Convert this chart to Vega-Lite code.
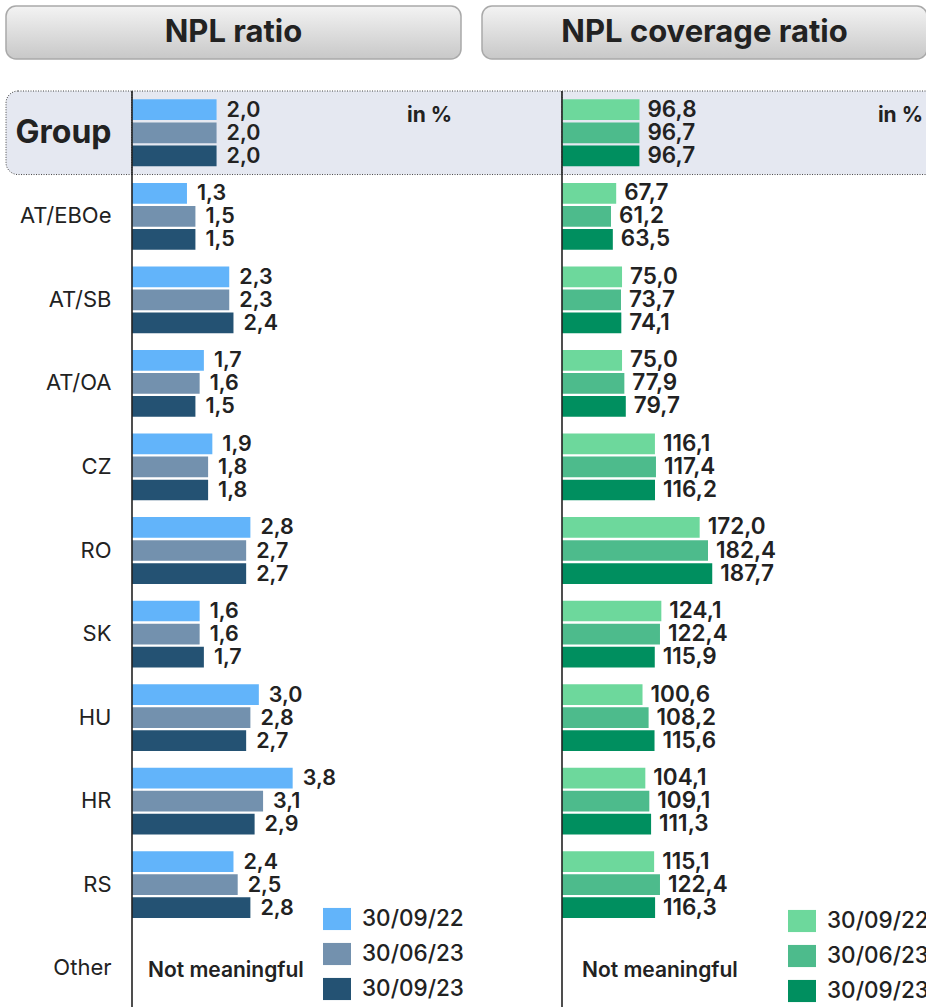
{
  "$schema": "https://vega.github.io/schema/vega-lite/v6.json",
  "padding": {"left": 5, "top": 5, "right": 0, "bottom": 0},
  "spacing": 30,
  "config": {
    "view": {"stroke": null},
    "locale": {"number": {"decimal": ",", "thousands": ".", "grouping": [3], "currency": ["", " €"]}}
  },
  "datasets": {
    "npl": [
      {"cat": "Group", "period": "30/09/22", "ratio": 2.0, "coverage": 96.8},
      {"cat": "Group", "period": "30/06/23", "ratio": 2.0, "coverage": 96.7},
      {"cat": "Group", "period": "30/09/23", "ratio": 2.0, "coverage": 96.7},
      {"cat": "AT/EBOe", "period": "30/09/22", "ratio": 1.3, "coverage": 67.7},
      {"cat": "AT/EBOe", "period": "30/06/23", "ratio": 1.5, "coverage": 61.2},
      {"cat": "AT/EBOe", "period": "30/09/23", "ratio": 1.5, "coverage": 63.5},
      {"cat": "AT/SB", "period": "30/09/22", "ratio": 2.3, "coverage": 75.0},
      {"cat": "AT/SB", "period": "30/06/23", "ratio": 2.3, "coverage": 73.7},
      {"cat": "AT/SB", "period": "30/09/23", "ratio": 2.4, "coverage": 74.1},
      {"cat": "AT/OA", "period": "30/09/22", "ratio": 1.7, "coverage": 75.0},
      {"cat": "AT/OA", "period": "30/06/23", "ratio": 1.6, "coverage": 77.9},
      {"cat": "AT/OA", "period": "30/09/23", "ratio": 1.5, "coverage": 79.7},
      {"cat": "CZ", "period": "30/09/22", "ratio": 1.9, "coverage": 116.1},
      {"cat": "CZ", "period": "30/06/23", "ratio": 1.8, "coverage": 117.4},
      {"cat": "CZ", "period": "30/09/23", "ratio": 1.8, "coverage": 116.2},
      {"cat": "RO", "period": "30/09/22", "ratio": 2.8, "coverage": 172.0},
      {"cat": "RO", "period": "30/06/23", "ratio": 2.7, "coverage": 182.4},
      {"cat": "RO", "period": "30/09/23", "ratio": 2.7, "coverage": 187.7},
      {"cat": "SK", "period": "30/09/22", "ratio": 1.6, "coverage": 124.1},
      {"cat": "SK", "period": "30/06/23", "ratio": 1.6, "coverage": 122.4},
      {"cat": "SK", "period": "30/09/23", "ratio": 1.7, "coverage": 115.9},
      {"cat": "HU", "period": "30/09/22", "ratio": 3.0, "coverage": 100.6},
      {"cat": "HU", "period": "30/06/23", "ratio": 2.8, "coverage": 108.2},
      {"cat": "HU", "period": "30/09/23", "ratio": 2.7, "coverage": 115.6},
      {"cat": "HR", "period": "30/09/22", "ratio": 3.8, "coverage": 104.1},
      {"cat": "HR", "period": "30/06/23", "ratio": 3.1, "coverage": 109.1},
      {"cat": "HR", "period": "30/09/23", "ratio": 2.9, "coverage": 111.3},
      {"cat": "RS", "period": "30/09/22", "ratio": 2.4, "coverage": 115.1},
      {"cat": "RS", "period": "30/06/23", "ratio": 2.5, "coverage": 122.4},
      {"cat": "RS", "period": "30/09/23", "ratio": 2.8, "coverage": 116.3}
    ]
  },
  "vconcat": [
    {
      "hconcat": [
        {
          "width": 455, "height": 53,
          "data": {"values": [{"t": "NPL ratio"}]},
          "layer": [
            {"mark": {"type": "rect", "cornerRadius": 10, "stroke": "#a9a9a9", "strokeWidth": 1.5,
              "fill": {"gradient": "linear", "x1": 0, "y1": 0, "x2": 0, "y2": 1, "stops": [{"offset": 0, "color": "#f3f3f3"}, {"offset": 1, "color": "#c8c8c8"}]}},
             "encoding": {}},
            {"mark": {"type": "text", "font": "Inter", "fontSize": 31, "fontWeight": 700, "color": "#222", "baseline": "middle"},
             "encoding": {"text": {"field": "t"}}}
          ]
        },
        {
          "width": 445, "height": 53,
          "data": {"values": [{"t": "NPL coverage ratio"}]},
          "layer": [
            {"mark": {"type": "rect", "cornerRadius": 10, "stroke": "#a9a9a9", "strokeWidth": 1.5,
              "fill": {"gradient": "linear", "x1": 0, "y1": 0, "x2": 0, "y2": 1, "stops": [{"offset": 0, "color": "#f3f3f3"}, {"offset": 1, "color": "#c8c8c8"}]}},
             "encoding": {}},
            {"mark": {"type": "text", "font": "Inter", "fontSize": 31, "fontWeight": 700, "color": "#222", "baseline": "middle"},
             "encoding": {"text": {"field": "t"}}}
          ]
        }
      ],
      "spacing": 21,
      "bounds": "flush"
    },
    {
      "hconcat": [
        {
          "width": 126, "height": 919,
          "data": {"values": [{"cat": "Group"}]},
          "mark": {"type": "rect", "fill": "#E5E8F1", "stroke": "#444", "strokeWidth": 1, "strokeDash": [1, 1.5], "cornerRadiusTopLeft": 12, "cornerRadiusBottomLeft": 12},
          "encoding": {
            "y": {"field": "cat", "type": "nominal",
              "scale": {"domain": ["Group", "AT/EBOe", "AT/SB", "AT/OA", "CZ", "RO", "SK", "HU", "HR", "RS", "Other"], "paddingInner": 0, "paddingOuter": 0},
              "axis": {"orient": "left", "domain": false, "ticks": false, "tickSize": 0, "labelPadding": -105, "labelAlign": "right", "labelBaseline": "middle",
                "labelFont": "Inter", "labelColor": "#222", "labelLimit": 300, "title": null,
                "labelFontSize": {"condition": {"test": "datum.value === 'Group'", "value": 32}, "value": 22},
                "labelFontWeight": {"condition": {"test": "datum.value === 'Group'", "value": 700}, "value": 400}}}
          }
        },
        {
          "width": 430, "height": 919,
          "layer": [
            {
              "data": {"values": [{"cat": "Group"}]},
              "mark": {"type": "rect", "fill": "#E5E8F1", "stroke": "#444", "strokeWidth": 1, "strokeDash": [1, 1.5]},
              "encoding": {"y": {"field": "cat", "type": "nominal", "axis": null,
                "scale": {"domain": ["Group", "AT/EBOe", "AT/SB", "AT/OA", "CZ", "RO", "SK", "HU", "HR", "RS", "Other"], "paddingInner": 0, "paddingOuter": 0}}}
            },
            {
              "layer": [
                {
                  "data": {"name": "npl"},
                  "mark": {"type": "bar"},
                  "encoding": {
                    "y": {"field": "cat", "type": "nominal", "axis": null,
                      "scale": {"domain": ["Group", "AT/EBOe", "AT/SB", "AT/OA", "CZ", "RO", "SK", "HU", "HR", "RS", "Other"], "paddingInner": 0.2, "paddingOuter": 0.1}},
                    "yOffset": {"field": "period", "type": "nominal", "scale": {"domain": ["30/09/22", "30/06/23", "30/09/23"], "paddingInner": 0.1, "paddingOuter": 0}},
                    "x": {"field": "ratio", "type": "quantitative", "stack": null, "axis": null, "scale": {"domain": [0, 10.17], "nice": false}},
                    "color": {"field": "period", "type": "nominal",
                      "scale": {"domain": ["30/09/22", "30/06/23", "30/09/23"], "range": ["#62B4FA", "#7391AE", "#245273"]},
                      "legend": {"orient": "none", "legendX": 191, "legendY": 814, "title": null, "padding": 0,
                        "symbolType": "M-1,-0.79H1V0.79H-1Z", "symbolSize": 784, "symbolStrokeWidth": 0, "symbolOpacity": 1,
                        "labelFont": "Inter", "labelFontSize": 22.5, "labelFontWeight": 500, "labelColor": "#222", "labelOffset": 11, "rowPadding": 9}}
                  }
                },
                {
                  "data": {"name": "npl"},
                  "mark": {"type": "text", "align": "left", "baseline": "middle", "dx": 10, "dy": 1, "font": "Inter", "fontSize": 21.5, "fontWeight": 600, "color": "#222"},
                  "encoding": {
                    "y": {"field": "cat", "type": "nominal", "axis": null},
                    "yOffset": {"field": "period", "type": "nominal"},
                    "x": {"field": "ratio", "type": "quantitative", "stack": null},
                    "text": {"field": "ratio", "type": "quantitative", "format": ".1f"}
                  }
                },
                {
                  "data": {"values": [{"cat": "Group", "t": "in %"}]},
                  "mark": {"type": "text", "align": "right", "baseline": "middle", "dy": -17, "font": "Inter", "fontSize": 21, "fontWeight": 700, "color": "#222"},
                  "encoding": {
                    "y": {"field": "cat", "type": "nominal", "axis": null},
                    "x": {"datum": 7.57, "type": "quantitative"},
                    "text": {"field": "t"}
                  }
                },
                {
                  "data": {"values": [{"cat": "Other", "t": "Not meaningful"}]},
                  "mark": {"type": "text", "align": "left", "baseline": "middle", "dx": 16, "dy": 3, "font": "Inter", "fontSize": 21, "fontWeight": 600, "color": "#222"},
                  "encoding": {
                    "y": {"field": "cat", "type": "nominal", "axis": null},
                    "x": {"datum": 0, "type": "quantitative"},
                    "text": {"field": "t"}
                  }
                }
              ]
            },
            {
              "data": {"values": [{"a": 1}]},
              "mark": {"type": "rule", "color": "#222", "strokeWidth": 1.6},
              "encoding": {"x": {"datum": 0, "type": "quantitative"}}
            }
          ],
          "resolve": {"scale": {"y": "independent"}}
        },
        {
          "width": 365, "height": 919,
          "layer": [
            {
              "data": {"values": [{"cat": "Group"}]},
              "mark": {"type": "rect", "fill": "#E5E8F1", "stroke": "#444", "strokeWidth": 1, "strokeDash": [1, 1.5]},
              "encoding": {"y": {"field": "cat", "type": "nominal", "axis": null,
                "scale": {"domain": ["Group", "AT/EBOe", "AT/SB", "AT/OA", "CZ", "RO", "SK", "HU", "HR", "RS", "Other"], "paddingInner": 0, "paddingOuter": 0}}}
            },
            {
              "layer": [
                {
                  "data": {"name": "npl"},
                  "mark": {"type": "bar"},
                  "encoding": {
                    "y": {"field": "cat", "type": "nominal", "axis": null,
                      "scale": {"domain": ["Group", "AT/EBOe", "AT/SB", "AT/OA", "CZ", "RO", "SK", "HU", "HR", "RS", "Other"], "paddingInner": 0.2, "paddingOuter": 0.1}},
                    "yOffset": {"field": "period", "type": "nominal", "scale": {"domain": ["30/09/22", "30/06/23", "30/09/23"], "paddingInner": 0.1, "paddingOuter": 0}},
                    "x": {"field": "coverage", "type": "quantitative", "stack": null, "axis": null, "scale": {"domain": [0, 456], "nice": false}},
                    "color": {"field": "period", "type": "nominal",
                      "scale": {"domain": ["30/09/22", "30/06/23", "30/09/23"], "range": ["#6DD89C", "#4DBB8C", "#008F5F"]},
                      "legend": {"orient": "none", "legendX": 226, "legendY": 816, "title": null, "padding": 0,
                        "symbolType": "M-1,-0.79H1V0.79H-1Z", "symbolSize": 784, "symbolStrokeWidth": 0, "symbolOpacity": 1,
                        "labelFont": "Inter", "labelFontSize": 22.5, "labelFontWeight": 500, "labelColor": "#222", "labelOffset": 11, "rowPadding": 9}}
                  }
                },
                {
                  "data": {"name": "npl"},
                  "mark": {"type": "text", "align": "left", "baseline": "middle", "dx": 8, "dy": 0, "font": "Inter", "fontSize": 22.5, "fontWeight": 600, "color": "#222"},
                  "encoding": {
                    "y": {"field": "cat", "type": "nominal", "axis": null},
                    "yOffset": {"field": "period", "type": "nominal"},
                    "x": {"field": "coverage", "type": "quantitative", "stack": null},
                    "text": {"field": "coverage", "type": "quantitative", "format": ".1f"}
                  }
                },
                {
                  "data": {"values": [{"cat": "Group", "t": "in %"}]},
                  "mark": {"type": "text", "align": "right", "baseline": "middle", "dy": -17, "font": "Inter", "fontSize": 21, "fontWeight": 700, "color": "#222"},
                  "encoding": {
                    "y": {"field": "cat", "type": "nominal", "axis": null},
                    "x": {"datum": 451, "type": "quantitative"},
                    "text": {"field": "t"}
                  }
                },
                {
                  "data": {"values": [{"cat": "Other", "t": "Not meaningful"}]},
                  "mark": {"type": "text", "align": "left", "baseline": "middle", "dx": 20, "dy": 3, "font": "Inter", "fontSize": 21, "fontWeight": 600, "color": "#222"},
                  "encoding": {
                    "y": {"field": "cat", "type": "nominal", "axis": null},
                    "x": {"datum": 0, "type": "quantitative"},
                    "text": {"field": "t"}
                  }
                }
              ]
            },
            {
              "data": {"values": [{"a": 1}]},
              "mark": {"type": "rule", "color": "#222", "strokeWidth": 1.6},
              "encoding": {"x": {"datum": 0, "type": "quantitative"}}
            }
          ],
          "resolve": {"scale": {"y": "independent"}}
        }
      ],
      "spacing": 0,
      "bounds": "flush",
      "resolve": {"scale": {"color": "independent"}, "legend": {"color": "independent"}}
    }
  ]
}
